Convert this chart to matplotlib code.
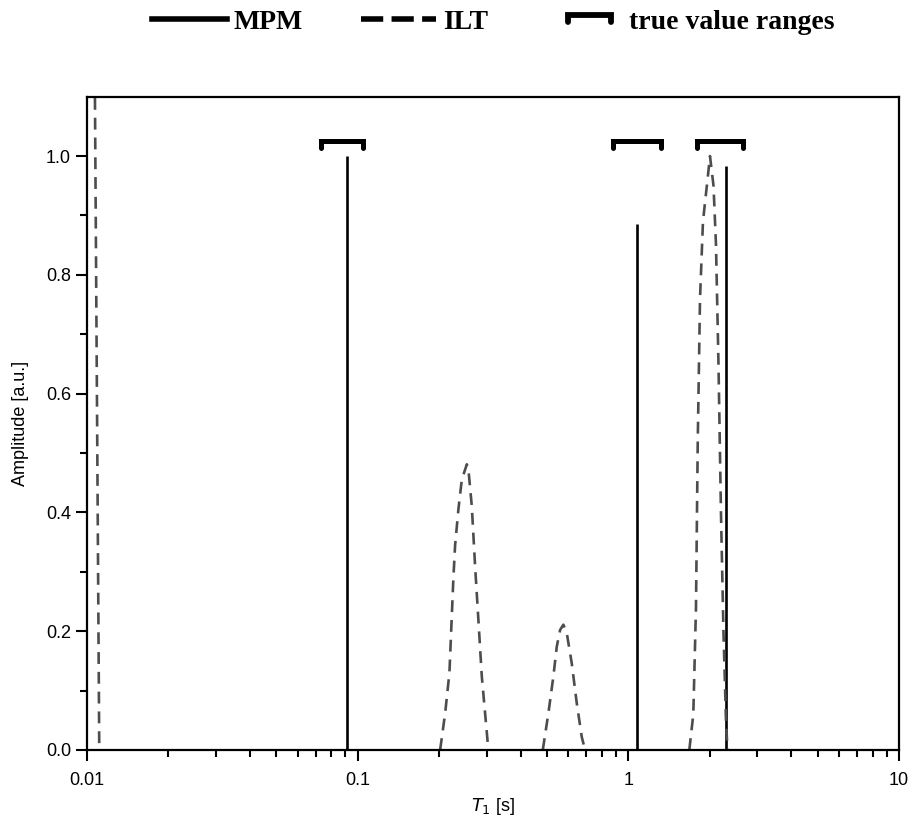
import matplotlib
matplotlib.use("Agg")
import matplotlib.pyplot as plt
import numpy as np
from matplotlib.lines import Line2D
from matplotlib.legend_handler import HandlerBase
from matplotlib.ticker import FixedLocator, NullFormatter, LogLocator

# MPM result: discrete T1 components
mpm_t1  = [0.0912, 1.074, 2.30]
mpm_amp = [1.00,   0.885, 0.983]

# ILT spectrum (segments split by nan)
ilt_t1 = [0.0104, 0.0107, 0.0109, 0.0111, np.nan,
          0.2017, 0.2105, 0.2183, 0.2227, 0.2258, 0.2291, 0.2356, 0.2425, 0.2531,
          0.2566, 0.2641, 0.2716, 0.2793, 0.2875, 0.304, np.nan,
          0.483, 0.5066, 0.5286, 0.544, 0.5596, 0.5754, 0.5923, 0.618,
          0.6448, 0.6729, 0.692, np.nan,
          1.680, 1.738, 1.778, 1.805, 1.840, 1.887, 1.961, 2.003,
          2.064, 2.108, 2.153, 2.199, 2.246, 2.295, 2.325]
ilt_amp = [1.30, 1.10, 0.55, 0.0, np.nan,
           0.0, 0.062, 0.130, 0.225, 0.290, 0.345, 0.405, 0.455, 0.481,
           0.472, 0.410, 0.309, 0.219, 0.124, 0.0, np.nan,
           0.0, 0.062, 0.124, 0.174, 0.202, 0.211, 0.197, 0.146,
           0.079, 0.022, 0.0, np.nan,
           0.0, 0.06, 0.24, 0.52, 0.76, 0.89, 0.96, 1.00,
           0.95, 0.85, 0.65, 0.40, 0.20, 0.05, 0.0]

# true value ranges
range_lo = [0.0731, 0.881, 1.80]
range_hi = [0.1048, 1.318, 2.66]
range_y  = 1.025


class BracketHandler(HandlerBase):
    def create_artists(self, legend, orig, xd, yd, width, height, fontsize, trans):
        x0 = xd + width * 0.28
        x1 = xd + width * 0.86
        y = yd + height * 0.70
        ln = Line2D([x0, x0, x1, x1], [y - height * 0.35, y, y, y - height * 0.35],
                    color='k', lw=4.2, solid_capstyle='round',
                    solid_joinstyle='miter', transform=trans)
        return [ln]


plt.rcParams['font.family'] = ['Liberation Sans', 'DejaVu Sans']

fig = plt.figure(figsize=(9.09, 8.30), dpi=100)
ax = fig.add_axes([0.0957, 0.0964, 0.8933, 0.7871])

ax.vlines(mpm_t1, 0, mpm_amp, color='k', lw=1.9)
ax.plot(ilt_t1, ilt_amp, color='#4d4d4d', lw=1.9, dashes=(4.5, 3))
for lo, hi in zip(range_lo, range_hi):
    ax.plot([lo, lo, hi, hi], [range_y - 0.012, range_y, range_y, range_y - 0.012],
            color='k', lw=3.6, solid_capstyle='round', solid_joinstyle='miter',
            clip_on=False)

ax.set_xscale('log')
ax.set_xlim(0.01, 10)
ax.set_ylim(0, 1.1)
ax.set_xticks([0.01, 0.1, 1, 10])
ax.set_xticklabels(['0.01', '0.1', '1', '10'])
ax.xaxis.set_minor_locator(LogLocator(base=10, subs=np.arange(2, 10)))
ax.xaxis.set_minor_formatter(NullFormatter())
ax.set_yticks([0.0, 0.2, 0.4, 0.6, 0.8, 1.0])
ax.set_yticklabels(['0.0', '0.2', '0.4', '0.6', '0.8', '1.0'])
ax.yaxis.set_minor_locator(FixedLocator([0.1, 0.3, 0.5, 0.7, 0.9]))

for s in ax.spines.values():
    s.set_linewidth(1.6)
ax.tick_params(which='major', direction='out', length=8, width=1.5, labelsize=13,
               top=False, right=False)
ax.tick_params(which='minor', direction='out', length=5, width=1.5,
               top=False, right=False)
ax.tick_params(axis='x', which='major', pad=8)

ax.set_xlabel('$T_1$ [s]', fontsize=13, labelpad=5)
ax.set_ylabel('Amplitude [a.u.]', fontsize=13, labelpad=12)

h_mpm = Line2D([], [], color='k', lw=4.0)
h_ilt = Line2D([], [], color='k', lw=4.0, dashes=(4, 1.5))
h_rng = Line2D([], [], color='k')
leg = ax.legend([h_mpm, h_ilt, h_rng], ['MPM', 'ILT', 'true value ranges'],
                handler_map={h_rng: BracketHandler()},
                loc='center', bbox_to_anchor=(0.5, 1.114), ncol=3, frameon=False,
                handlelength=2.7, handletextpad=0.25, columnspacing=2.1,
                prop={'family': 'Liberation Serif', 'weight': 'bold', 'size': 20})

fig.savefig('out.png', dpi=100)
